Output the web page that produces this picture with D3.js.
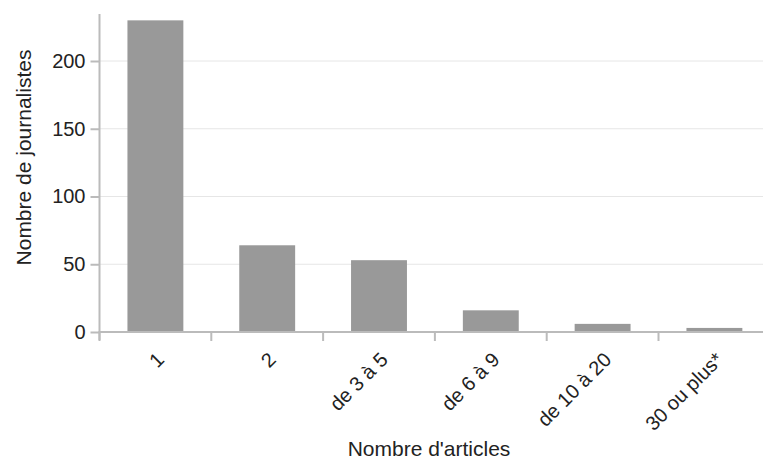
<!DOCTYPE html>
<html><head><meta charset="utf-8">
<script src="https://cdn.jsdelivr.net/npm/d3@7"></script>
<style>body{margin:0;background:#fff}svg{display:block;font-family:"Liberation Sans",Arial,sans-serif}</style>
</head><body>
<svg id="c" width="763" height="459"></svg>
<script>
const categories = ["1", "2", "de 3 à 5", "de 6 à 9", "de 10 à 20", "30 ou plus*"];
const values = [230, 64, 53, 16, 6, 3];
const yTicks = [0, 50, 100, 150, 200];

const svg = d3.select("#c");
const x0 = 99.5, band = 111.8, y0 = 332, yTop = 14;
const x = d3.scaleBand().domain(categories).range([x0, x0 + band * categories.length]).paddingInner(0.5).paddingOuter(0.25);
const y = d3.scaleLinear().domain([0, 200]).range([y0, 61]);

// gridlines
svg.append("g").selectAll("line").data(yTicks.filter(d => d > 0)).join("line")
  .attr("x1", x0).attr("x2", 763).attr("y1", d => y(d)).attr("y2", d => y(d))
  .attr("stroke", "#ccc").attr("stroke-width", 1).attr("stroke-dasharray", "1,1");

// bars
svg.append("g").selectAll("rect").data(values).join("rect")
  .attr("x", (d, i) => x(categories[i]))
  .attr("width", x.bandwidth())
  .attr("y", d => y(d))
  .attr("height", d => y(0) - y(d))
  .attr("fill", "#999");

// y axis
const yAxis = svg.append("g").attr("transform", `translate(${x0},0)`)
  .call(d3.axisLeft(y).tickValues(yTicks).tickSize(9).tickPadding(5));
yAxis.select(".domain").attr("d", `M0,${yTop}V${y0 + 8}`);
yAxis.selectAll("path,line").attr("stroke", "#bbb").attr("stroke-width", 2);
yAxis.selectAll("text").attr("font-size", 20).attr("fill", "#222").attr("font-family", "Liberation Sans, Arial, sans-serif");

// x axis
const xTickPos = categories.map(c => x(c) - x.step() * 0.25);
const xa = svg.append("g");
xa.append("line").attr("x1", x0 - 1).attr("x2", 763).attr("y1", y0).attr("y2", y0)
  .attr("stroke", "#bbb").attr("stroke-width", 2);
xa.selectAll("line.t").data(xTickPos).join("line").attr("class", "t")
  .attr("x1", d => d).attr("x2", d => d).attr("y1", y0).attr("y2", y0 + 9)
  .attr("stroke", "#bbb").attr("stroke-width", 2);
xa.selectAll("text").data(categories).join("text")
  .attr("transform", c => `translate(${x(c) + x.bandwidth() / 2 + 10},${y0 + 29}) rotate(-45)`)
  .attr("text-anchor", "end")
  .attr("font-size", 20).attr("fill", "#222")
  .text(c => c);

// axis titles
svg.append("text").attr("transform", `translate(30.5,157.5) rotate(-90)`)
  .attr("text-anchor", "middle").attr("font-size", 21).attr("fill", "#222").text("Nombre de journalistes");
svg.append("text").attr("x", 429).attr("y", 456).attr("text-anchor", "middle")
  .attr("font-size", 21).attr("fill", "#222").text("Nombre d'articles");
</script>
</body></html>
